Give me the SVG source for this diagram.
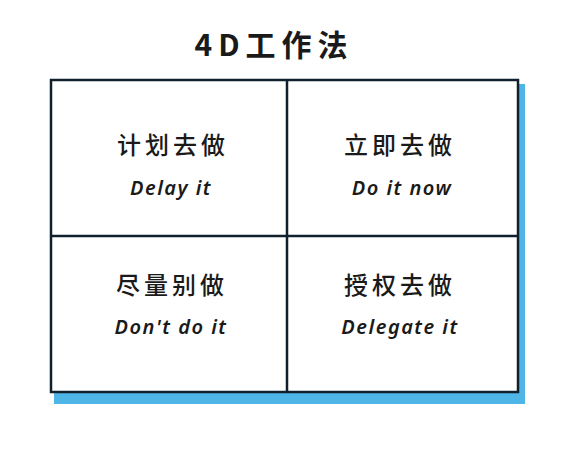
<svg xmlns="http://www.w3.org/2000/svg" width="564" height="459" viewBox="0 0 564 459">
<style>
.zh{font-family:"Noto Sans CJK SC","Noto Sans",sans-serif;font-size:24px;font-weight:500;letter-spacing:4px;fill:#1a1a1a;text-anchor:middle}
.en{font-family:"Noto Sans","Liberation Sans",sans-serif;font-size:20px;font-weight:600;font-style:italic;letter-spacing:1.5px;fill:#1a1a1a;text-anchor:middle}
.line{stroke:#10202e;stroke-width:2.5;fill:none}
</style>
<rect width="564" height="459" fill="#ffffff"/>
<text x="274" y="56" font-family="Noto Sans CJK SC,sans-serif" font-size="30" font-weight="700" letter-spacing="6" fill="#1a1a1a" text-anchor="middle">4D工作法</text>
<path d="M518 84 L525 84 L525 404 L54 404 L54 393 L518 393 Z" fill="#4fb4e6"/>
<g id="connectors">
<rect class="line" x="51" y="80" width="467" height="312"/>
<line class="line" x1="287" y1="80" x2="287" y2="392"/>
<line class="line" x1="51" y1="236" x2="518" y2="236"/>
</g>
<g id="node-plan">
<text class="zh" x="173" y="154">计划去做</text>
<text class="en" x="171" y="195">Delay it</text>
</g>
<g id="node-now">
<text class="zh" x="400" y="154">立即去做</text>
<text class="en" x="402" y="195">Do it now</text>
</g>
<g id="node-avoid">
<text class="zh" x="172" y="294">尽量别做</text>
<text class="en" x="171" y="334">Don't do it</text>
</g>
<g id="node-delegate">
<text class="zh" x="400" y="294">授权去做</text>
<text class="en" x="400" y="334">Delegate it</text>
</g>
</svg>
